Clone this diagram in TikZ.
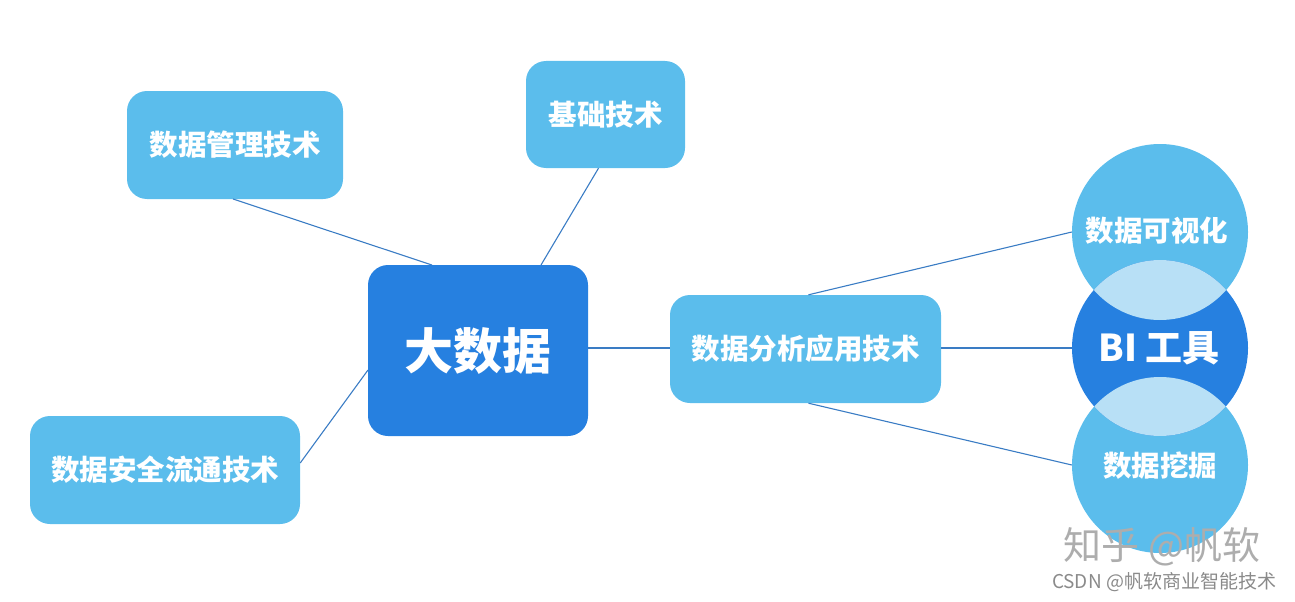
\documentclass[tikz,border=0pt]{standalone}
\usepackage{fontspec}
\setmainfont{Noto Sans CJK SC}
\newfontfamily\cjk{Noto Sans CJK SC}
\usetikzlibrary{positioning}
\definecolor{lb}{HTML}{5BBDEC}
\definecolor{db}{HTML}{2680E0}
\definecolor{lens}{HTML}{B8E0F6}
\definecolor{ln}{HTML}{3A7CC4}
\definecolor{wm}{HTML}{8A8A8A}
\tikzset{
  box/.style={fill=lb, rounded corners=20pt, text=white, font=\cjk\bfseries\fontsize{28.5}{30}\selectfont, inner sep=0pt},
  conn/.style={draw=ln, line width=1.1pt},
  circ/.style={circle, minimum size=176pt, inner sep=0pt, text=white, font=\cjk\bfseries\fontsize{28}{30}\selectfont}
}
\begin{document}
\begin{tikzpicture}[x=1pt,y=-1pt]
\useasboundingbox (0,0) rectangle (1295,602);
% boxes
\node[box, minimum width=216pt, minimum height=108pt] (mgmt) at (235,145) {数据管理技术};
\node[box, minimum width=159pt, minimum height=107pt] (base) at (605.5,114.5) {基础技术};
\node[box, fill=db, minimum width=220pt, minimum height=171pt, font=\cjk\bfseries\fontsize{49}{52}\selectfont] (big) at (478,350.5) {大数据};
\node[box, minimum width=270pt, minimum height=108pt] (sec) at (165,470) {数据安全流通技术};
\node[box, minimum width=271pt, minimum height=108pt] (ana) at (805.5,349) {数据分析应用技术};
% circles
\node[circ, fill=lb] (vis) at (1160,232) {};
\node[circ, fill=lb] (mine) at (1160,465) {};
\node[circ, fill=db] (bi) at (1160,348) {};
\begin{scope}
  \clip (1160,232) circle (88);
  \fill[lens] (1160,348) circle (88);
\end{scope}
\begin{scope}
  \clip (1160,465) circle (88);
  \fill[lens] (1160,348) circle (88);
\end{scope}
\node[text=white, font=\cjk\bfseries\fontsize{28.5}{30}\selectfont] (vist) at (1157,231) {数据可视化};
\node[text=white, font=\cjk\bfseries\fontsize{37}{40}\selectfont] (bit) at (1159,348) {BI 工具};
\node[text=white, font=\cjk\bfseries\fontsize{28.5}{30}\selectfont] (minet) at (1160,466) {数据挖掘};
% connectors
\draw[conn] (233,199) -- (432,265);
\draw[conn] (base.south) ++(-7,0) coordinate (bs) (bs) -- (541,265);
\draw[conn] (sec.east) ++(0,-7) coordinate (se) (se) -- (368,370);
\draw[conn] (big.east |- bi.west) -- (ana.west |- bi.west);
\draw[conn] (ana.north) ++(3,0) coordinate (an) (an) -- (vis.west);
\draw[conn] (ana.east |- bi.west) -- (bi.west);
\draw[conn] (ana.south) ++(3,0) coordinate (as) (as) -- (mine.west);
% watermark
\node[text=wm!70, font=\cjk\fontsize{38}{40}\selectfont, anchor=center] (zh) at (1162,547) {知乎 @帆软};
\node[text=wm, font=\cjk\fontsize{19}{21}\selectfont, anchor=center] (csdn) at (1164,582) {CSDN @帆软商业智能技术};
\end{tikzpicture}
\end{document}
